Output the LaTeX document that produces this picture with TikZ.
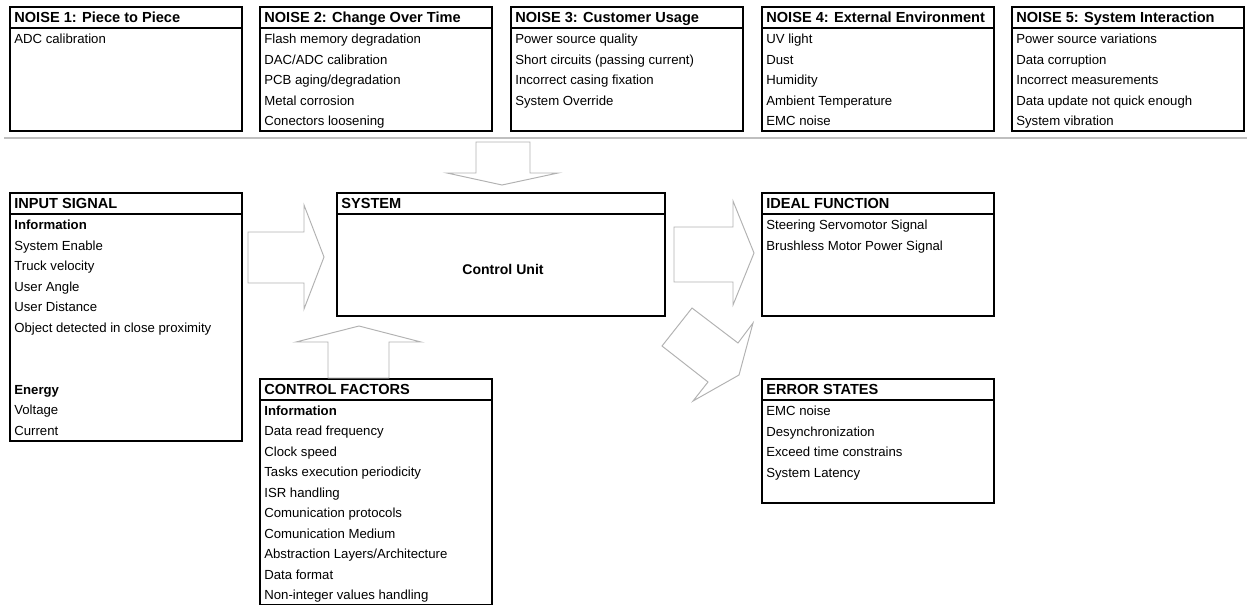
\documentclass[tikz,border=0pt]{standalone}
\usepackage{fontspec}
\setmainfont{Liberation Sans}
\usetikzlibrary{calc}

\tikzset{
  box/.style={draw=black, line width=0.9pt},
  head/.style={anchor=base west, inner sep=0pt, font=\fontsize{8.3}{10}\selectfont\bfseries},
  item/.style={anchor=base west, inner sep=0pt},
  bigarrow/.style={draw=black!30, line width=0.55pt, fill=white, line join=miter},
  sep/.style={draw=black!25, line width=0.9pt},
}

% #1 name, #2 left, #3 top, #4 right, #5 bottom, #6 title
\newcommand\panel[6]{%
  \draw[box] (#2,#3) rectangle (#4,#5);
  \draw[box] (#2,#3+21) -- (#4,#3+21);
  \node[head] (#1) at (#2+4,#3+15.5) {#6};
}

\begin{document}
\begin{tikzpicture}[x=0.02cm, y=-0.02cm, font=\fontsize{7.5}{9}\selectfont]
  \useasboundingbox (0,0) rectangle (1247,606);

  % noise row
  \panel{noise1}{10}{7}{242}{131}{NOISE 1: Piece to Piece}
  \panel{noise2}{260}{7}{492}{131}{NOISE 2: Change Over Time}
  \panel{noise3}{511}{7}{743}{131}{NOISE 3: Customer Usage}
  \panel{noise4}{762}{7}{994}{131}{NOISE 4: External Environment}
  \panel{noise5}{1012}{7}{1244}{131}{NOISE 5: System Interaction}

  \node[item] (n1-0) at (14,43.5) {ADC calibration};
  \foreach \t [count=\i from 0] in {Flash memory degradation, DAC/ADC calibration,
      PCB aging/degradation, Metal corrosion, Conectors loosening}
    \node[item] (n2-\i) at (264,43.5+20.6*\i) {\t};
  \foreach \t [count=\i from 0] in {Power source quality, Short circuits (passing current),
      Incorrect casing fixation, System Override}
    \node[item] (n3-\i) at (515,43.5+20.6*\i) {\t};
  \foreach \t [count=\i from 0] in {UV light, Dust, Humidity, Ambient Temperature, EMC noise}
    \node[item] (n4-\i) at (766,43.5+20.6*\i) {\t};
  \foreach \t [count=\i from 0] in {Power source variations, Data corruption,
      Incorrect measurements, Data update not quick enough, System vibration}
    \node[item] (n5-\i) at (1016,43.5+20.6*\i) {\t};

  \draw[sep] (4,138) -- (1247,138);

  % middle row
  \panel{input}{10}{193}{242}{441}{INPUT SIGNAL}
  \foreach \i/\t in {0/\textbf{Information}, 1/System Enable, 2/Truck velocity,
      3/User Angle, 4/User Distance, 5/Object detected in close proximity,
      8/\textbf{Energy}, 9/Voltage, 10/Current}
    \node[item] (in-\i) at (14,229.5+20.6*\i) {\t};

  \panel{system}{337}{193}{665}{316}{SYSTEM}
  \node[font=\fontsize{8}{10}\selectfont\bfseries, inner sep=0pt] (cu) at (503,269) {Control Unit};

  \panel{ideal}{762}{193}{994}{316}{IDEAL FUNCTION}
  \foreach \t [count=\i from 0] in {Steering Servomotor Signal, Brushless Motor Power Signal}
    \node[item] (id-\i) at (766,229.5+20.6*\i) {\t};

  % bottom row
  \panel{error}{762}{379}{994}{503}{ERROR STATES}
  \foreach \t [count=\i from 0] in {EMC noise, Desynchronization,
      Exceed time constrains, System Latency}
    \node[item] (er-\i) at (766,415.5+20.6*\i) {\t};

  \panel{control}{260}{379}{492}{604.5}{CONTROL FACTORS}
  \foreach \t [count=\i from 0] in {\textbf{Information}, Data read frequency, Clock speed,
      Tasks execution periodicity, ISR handling, Comunication protocols,
      Comunication Medium, Abstraction Layers/Architecture, Data format,
      Non-integer values handling}
    \node[item] (cf-\i) at (264,415.5+20.45*\i) {\t};

  % block arrows
  \draw[bigarrow] (476,142) -- (530,142) -- (530,173) -- (558,173) -- (502,185)
    -- (447,173) -- (476,173) -- cycle;
  \draw[bigarrow] (248,232) -- (304,232) -- (304,205) -- (324,257) -- (304,309)
    -- (304,283) -- (248,283) -- cycle;
  \draw[bigarrow] (674,227) -- (733,227) -- (733,201) -- (754,253) -- (733,305)
    -- (733,282) -- (674,282) -- cycle;
  \draw[bigarrow] (328,378) -- (328,342) -- (296,342) -- (359,326) -- (421,342)
    -- (389,342) -- (389,378) -- cycle;
  \draw[bigarrow] (692,308) -- (738,343) -- (753,323) -- (739,375) -- (693,401)
    -- (708,382) -- (662,346) -- cycle;
\end{tikzpicture}
\end{document}
